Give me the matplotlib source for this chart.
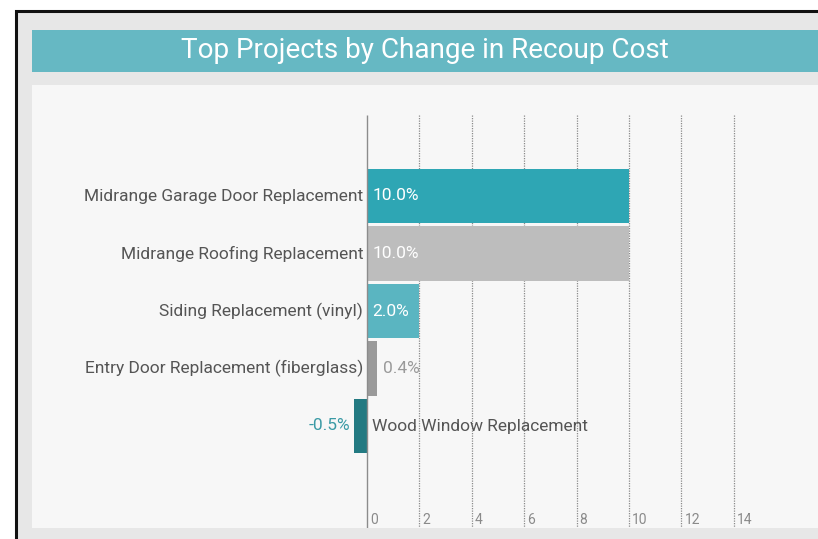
import matplotlib
matplotlib.use("Agg")
import matplotlib.pyplot as plt
from matplotlib.patches import Rectangle

categories = ["Midrange Garage Door Replacement", "Midrange Roofing Replacement",
              "Siding Replacement (vinyl)", "Entry Door Replacement (fiberglass)",
              "Wood Window Replacement"]
values = [10.0, 10.0, 2.0, 0.4, -0.5]
value_labels = ["10.0%", "10.0%", "2.0%", "0.4%", "-0.5%"]
bar_colors = ["#2ea6b4", "#bdbdbd", "#5ab5c1", "#9a9a9a", "#237a82"]
ticks = [0, 2, 4, 6, 8, 10, 12, 14]
title = "Top Projects by Change in Recoup Cost"

W, H = 818, 539
fig = plt.figure(figsize=(W / 100, H / 100), dpi=100)
fig.patch.set_facecolor("white")

def rect(x0, y0, x1, y1, **kw):
    fig.patches.append(Rectangle((x0 / W, 1 - y1 / H), (x1 - x0) / W, (y1 - y0) / H,
                                 transform=fig.transFigure, zorder=-5, **kw))

# outer frame / background
rect(16, 11, 830, 545, facecolor="#e7e7e7", edgecolor="#111111", linewidth=2.2)
# title bar
rect(32, 30, 830, 72, facecolor="#66b8c3", edgecolor="none")
# plot panel
rect(32, 85, 830, 528, facecolor="#f7f7f7", edgecolor="none")

fig.text(425 / W, 1 - 51 / H, title, ha="center", va="center", color="white",
         fontsize=20.1, family=["Roboto", "DejaVu Sans"])

font = ["Roboto", "DejaVu Sans"]
ax = fig.add_axes([32 / W, 1 - 528 / H, (818 - 32) / W, (528 - 115) / H])
ax.set_facecolor("none")
x0px, upx = 367, 26.2
ax.set_xlim(-(x0px - 32) / upx, (818 - x0px) / upx)
ax.set_ylim(4 + (528 - 426) / 57.5, -(196 - 115) / 57.5)
for s in ax.spines.values():
    s.set_visible(False)
ax.set_xticks([])
ax.set_yticks([])

ylo, yhi = ax.get_ylim()
ax.vlines(ticks[1:], yhi, ylo, colors="#8a8a8a", linestyles=(0, (1, 1)), linewidth=0.9, zorder=1)
ax.vlines([0], yhi, ylo, colors="#8c8c8c", linewidth=1.0, zorder=3)
for t in ticks:
    ax.text(t + 0.12, ylo - 0.02, str(t), ha="left", va="bottom", color="#8a8a8a",
            fontsize=10, family=font)

pos = list(range(len(categories)))
ax.barh(pos, values, height=0.94, color=bar_colors, zorder=2)

fs = 12.5
for i, (c, v, lab) in enumerate(zip(categories, values, value_labels)):
    if v >= 0:
        ax.text(-0.15, i, c, ha="right", va="center", color="#555555", fontsize=fs, family=font)
        if v > 1:
            ax.text(0.2, i, lab, ha="left", va="center", color="white", fontsize=fs, family=font, zorder=4)
        else:
            ax.text(v + 0.2, i, lab, ha="left", va="center", color="#9a9a9a", fontsize=fs, family=font, zorder=4)
    else:
        ax.text(0.2, i, c, ha="left", va="center", color="#555555", fontsize=fs, family=font, zorder=4)
        ax.text(v - 0.15, i, lab, ha="right", va="center", color="#3a9aa5", fontsize=fs, family=font)

fig.savefig("out.png", dpi=100)
